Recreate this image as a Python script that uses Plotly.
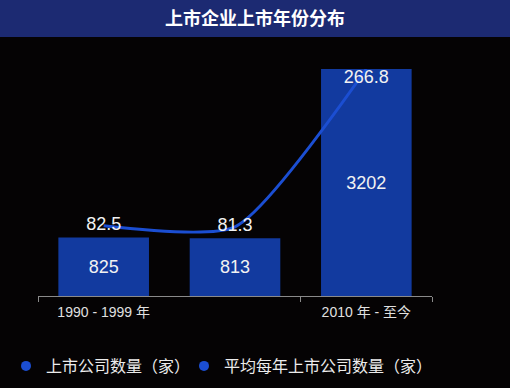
import plotly.graph_objects as go

categories = ["1990 - 1999 年", "2000 - 2009 年", "2010 年 - 至今"]
tick_labels = ["1990 - 1999 年", "", "2010 年 - 至今"]
company_counts = [825, 813, 3202]
avg_per_year = [82.5, 81.3, 266.8]
title_text = "上市企业上市年份分布"
legend_names = ["上市公司数量（家）", "平均每年上市公司数量（家）"]

BG = "#050304"
BAR = "#123a9f"
LINE = "#1b4ed2"
FONT = "Liberation Sans, Noto Sans CJK SC, sans-serif"

W, H = 510, 388
ml, mr, mt, mb = 38, 78, 69, 92
pw, ph = W - ml - mr, H - mt - mb

fig = go.Figure()
fig.add_trace(go.Bar(
    x=categories, y=company_counts, marker=dict(color=BAR, line=dict(width=0)),
    text=[str(v) for v in company_counts], textposition="inside",
    insidetextanchor="middle", textfont=dict(color="#f2f2f2", size=18, family=FONT),
    showlegend=False, hoverinfo="skip", xaxis="x", yaxis="y",
))
fig.add_trace(go.Scatter(
    x=list(range(len(categories))), y=avg_per_year, mode="lines+text",
    line=dict(color=LINE, width=3, shape="spline", smoothing=0.6),
    text=[str(v) for v in avg_per_year],
    textposition=["middle center", "middle center", "bottom center"],
    textfont=dict(color="#f2f2f2", size=18, family=FONT),
    cliponaxis=False, showlegend=False, hoverinfo="skip", xaxis="x2", yaxis="y2",
))
# legend entries (circle markers), one per legend box
for name, lg in zip(legend_names, ["legend", "legend2"]):
    fig.add_trace(go.Scatter(x=[None], y=[None], mode="markers", name=name, legend=lg,
                             marker=dict(symbol="circle", size=10, color=LINE),
                             xaxis="x2", yaxis="y2"))

def px_x(p):
    return (p - ml) / pw

def px_y(p):
    return 1 + (mt - p) / ph

fig.add_shape(type="rect", xref="paper", yref="paper",
              x0=px_x(0), x1=px_x(W), y0=px_y(37), y1=px_y(0),
              fillcolor="#1c2a72", line=dict(width=0), layer="below")

legend_common = dict(orientation="h", y=1 - 366 / H, xanchor="left", yanchor="middle",
                     xref="container", yref="container",
                     font=dict(size=16, color="#ececec", family="Noto Sans CJK SC, sans-serif"),
                     bgcolor="rgba(0,0,0,0)", itemclick=False, itemdoubleclick=False)

fig.update_layout(
    width=W, height=H, margin=dict(l=ml, r=mr, t=mt, b=mb),
    paper_bgcolor=BG, plot_bgcolor=BG, bargap=0.31,
    font=dict(family=FONT, color="#e8e8e8"),
    title=dict(text="<b>" + title_text + "</b>", x=0.5, xref="container", xanchor="center",
               y=1 - 18.5 / H, yref="container", yanchor="middle",
               font=dict(size=18, color="#ffffff", family="Noto Sans CJK SC, sans-serif")),
    xaxis=dict(type="category", range=[-0.5, 2.5], tickvals=categories, ticktext=tick_labels,
               ticks="", showgrid=False, zeroline=False, showline=True, linecolor="#8a8a8a",
               linewidth=1, tickfont=dict(size=14, color="#e0e0e0", family=FONT),
               ticklabelstandoff=3, fixedrange=True),
    xaxis2=dict(overlaying="x", anchor="y", side="bottom", range=[-0.5, 2.5],
                tickvals=[-0.5, 1.5, 2.5], showticklabels=False, ticks="outside",
                ticklen=5, tickcolor="#8a8a8a", showgrid=False, zeroline=False,
                showline=False),
    yaxis=dict(range=[0, max(company_counts)], visible=False, showgrid=False),
    yaxis2=dict(range=[0, max(avg_per_year)], overlaying="y", anchor="x", visible=False,
                showgrid=False),
    legend=dict(x=6 / W, **legend_common),
    legend2=dict(x=184 / W, **legend_common),
)

fig.write_html("out.html", config={"displayModeBar": False},
               post_script="document.body.style.margin='0';document.body.style.background='%s';" % BG)
